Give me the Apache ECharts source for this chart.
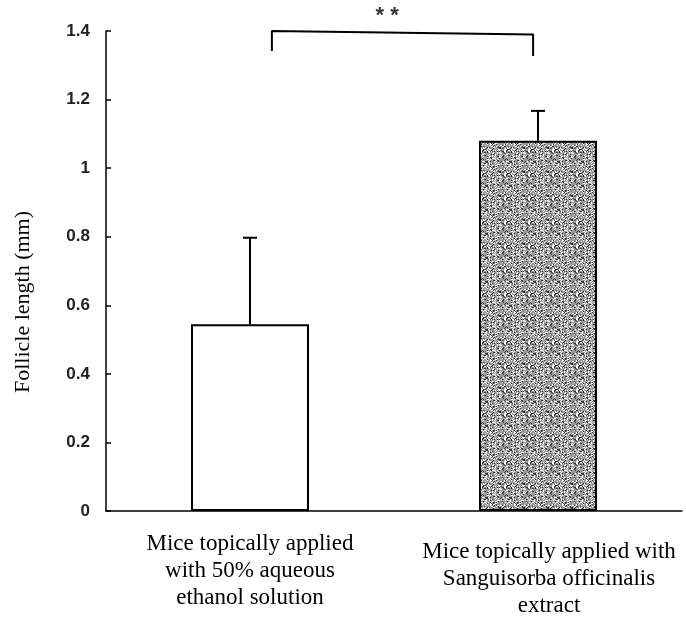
<!DOCTYPE html>
<html>
<head>
<meta charset="utf-8">
<script src="https://cdn.jsdelivr.net/npm/echarts@6/dist/echarts.min.js"></script>
<style>html,body{margin:0;padding:0;background:#fff;}#c{width:686px;height:619px;}</style>
</head>
<body>
<div id="c"></div>
<script>
var categories = ['Mice topically applied\nwith 50% aqueous\nethanol solution', 'Mice topically applied with\nSanguisorba officinalis\nextract'];
var means = [0.545, 1.080];
var errorTops = [0.797, 1.167];
var yTicks = { min: 0, max: 1.4, interval: 0.2 };
var bracketX = [0.076, 0.076, 0.983, 0.983];
var bracketY = [1.342, 1.400, 1.390, 1.327];
var sigLabel = { x: 0.476, y: 1.445, text: '* *' };

// stipple texture for the second bar
function makePattern() {
  var cv = document.createElement('canvas');
  cv.width = 24; cv.height = 24;
  var ctx = cv.getContext('2d');
  ctx.fillStyle = '#9a9a9a';
  ctx.fillRect(0, 0, 24, 24);
  for (var i = 0; i < 24; i++) {
    for (var j = 0; j < 24; j++) {
      var h = Math.abs(Math.sin(i * 12.9898 + j * 78.233) * 43758.5453) % 1;
      if (h < 0.2) { ctx.fillStyle = '#ffffff'; ctx.fillRect(i, j, 1, 1); }
      else if (h > 0.8) { ctx.fillStyle = '#333333'; ctx.fillRect(i, j, 1, 1); }
    }
  }
  return cv;
}
var pattern = makePattern();

var barData = means.map(function (v, i) {
  return {
    value: v,
    itemStyle: i === 0
      ? { color: '#ffffff', borderColor: '#000', borderWidth: 2 }
      : { color: { image: pattern, repeat: 'repeat' }, borderColor: '#000', borderWidth: 2 }
  };
});
var errData = means.map(function (v, i) { return [i, v, errorTops[i]]; });
var bracketData = bracketX.map(function (x, i) { return [x, bracketY[i]]; });
var xAxisData = categories.map(function (c, i) {
  return i === 1 ? { value: c, textStyle: { padding: [8, 0, 0, 22] } } : { value: c };
});

var chart = echarts.init(document.getElementById('c'));
chart.setOption({
  animation: false,
  backgroundColor: '#fff',
  grid: { left: 106, right: 4, top: 31, bottom: 107, containLabel: false },
  xAxis: [{
    type: 'category',
    data: xAxisData,
    axisLine: { lineStyle: { color: '#000', width: 1.5 } },
    axisTick: { inside: true, length: 8, lineStyle: { color: '#000', width: 1.5 } },
    axisLabel: {
      color: '#000', fontFamily: 'Liberation Serif, Times New Roman, serif',
      fontSize: 23, lineHeight: 27, margin: 19, interval: 0
    }
  }, {
    type: 'value', min: -0.5, max: 1.5, show: false
  }],
  yAxis: {
    type: 'value', min: yTicks.min, max: yTicks.max, interval: yTicks.interval,
    axisLine: { show: true, onZero: false, lineStyle: { color: '#000', width: 1.5 } },
    axisTick: { show: true, inside: true, length: 5, lineStyle: { color: '#000', width: 1.5 } },
    splitLine: { show: false },
    axisLabel: {
      color: '#222', fontFamily: 'Liberation Sans, Arial, sans-serif',
      fontSize: 17, fontWeight: 'bold', margin: 16
    }
  },
  graphic: [{
    type: 'text', x: 23, y: 302, rotation: Math.PI / 2,
    style: {
      text: 'Follicle length (mm)', fill: '#000',
      font: '22px "Liberation Serif", "Times New Roman", serif',
      align: 'center', verticalAlign: 'middle'
    }
  }],
  series: [{
    type: 'bar', data: barData, barWidth: 118, z: 2
  }, {
    type: 'custom', z: 3,
    data: errData,
    encode: { x: 0, y: [1, 2] },
    renderItem: function (params, api) {
      var base = api.coord([api.value(0), api.value(1)]);
      var top = api.coord([api.value(0), api.value(2)]);
      var hw = 7;
      return {
        type: 'group',
        children: [
          { type: 'line', shape: { x1: base[0], y1: base[1], x2: top[0], y2: top[1] }, style: { stroke: '#000', lineWidth: 2 } },
          { type: 'line', shape: { x1: top[0] - hw, y1: top[1], x2: top[0] + hw, y2: top[1] }, style: { stroke: '#000', lineWidth: 2 } }
        ]
      };
    }
  }, {
    type: 'line', xAxisIndex: 1, data: bracketData, symbol: 'none', clip: false,
    lineStyle: { color: '#000', width: 2 }, z: 4
  }, {
    type: 'scatter', xAxisIndex: 1, data: [[sigLabel.x, sigLabel.y]], symbolSize: 1, clip: false,
    itemStyle: { color: 'transparent' },
    label: {
      show: true, position: 'inside', formatter: sigLabel.text, color: '#000',
      fontFamily: 'Liberation Sans, Arial, sans-serif', fontSize: 22, fontWeight: 'bold'
    }, z: 4
  }]
});
</script>
</body>
</html>
